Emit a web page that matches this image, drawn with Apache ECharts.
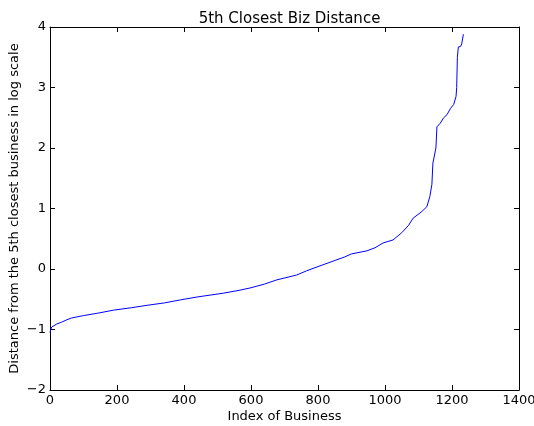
<!DOCTYPE html>
<html><head><meta charset="utf-8">
<script src="https://cdn.jsdelivr.net/npm/echarts@6/dist/echarts.min.js"></script>
<style>html,body{margin:0;padding:0;background:#fff}#c{width:534px;height:426px}</style>
</head><body><div id="c"></div>
<script>
const title = "5th Closest Biz Distance";
const xLabel = "Index of Business";
const yLabel = "Distance from the 5th closest business in log scale";
const xTicks = [0, 200, 400, 600, 800, 1000, 1200, 1400];
const yTicks = [-2, -1, 0, 1, 2, 3, 4];
const businessIndex = [0,2,5,9,20,34,50,64,100,143,190,243,290,342,390,442,480,517,567,600,640,677,736,766,800,845,880,900,946,970,994,1024,1050,1070,1084,1110,1125,1134,1140,1143,1147,1152,1155,1165,1175,1185,1195,1205,1212,1214,1216,1219,1226,1229,1234];
const logDistance = [-1.05,-1.0,-0.96,-0.93,-0.91,-0.88,-0.84,-0.81,-0.77,-0.73,-0.68,-0.64,-0.60,-0.56,-0.51,-0.46,-0.43,-0.40,-0.35,-0.31,-0.25,-0.18,-0.10,-0.03,0.04,0.13,0.20,0.25,0.30,0.35,0.43,0.48,0.60,0.72,0.84,0.95,1.03,1.2,1.4,1.75,1.77,2.0,2.35,2.41,2.5,2.55,2.65,2.72,2.85,3.0,3.5,3.67,3.68,3.72,3.88];

const pts = businessIndex.map((x, i) => [x, logDistance[i]]);
const font = "DejaVu Sans";
const fmt = v => String(v).replace('-', '\u2212');
const common = {
  axisLine: {show: true, onZero: false, lineStyle: {color: '#000', width: 1}},
  axisTick: {show: true, inside: true, length: 5, lineStyle: {color: '#000'}},
  splitLine: {show: false}
};
const chart = echarts.init(document.getElementById('c'), null, {renderer: 'canvas'});
chart.setOption({
  animation: false,
  backgroundColor: '#fff',
  title: {text: title, left: 284.5, textAlign: 'center', top: 7, textStyle: {fontFamily: font, fontSize: 15, fontWeight: 'normal', color: '#000'}},
  grid: {left: 50, right: 15, top: 27, bottom: 36, containLabel: false, outerBoundsMode: 'none'},
  xAxis: [
    Object.assign({type: 'value', position: 'bottom', min: xTicks[0], max: xTicks[xTicks.length-1], interval: 200,
      name: xLabel, nameLocation: 'middle', nameGap: 20, nameMoveOverlap: false,
      nameTextStyle: {fontFamily: font, fontSize: 13, color: '#000'},
      axisLabel: {fontFamily: font, fontSize: 13, color: '#000', margin: 4, formatter: fmt}}, common),
    Object.assign({type: 'value', position: 'top', min: xTicks[0], max: xTicks[xTicks.length-1], interval: 200,
      axisLabel: {show: false}}, common)
  ],
  yAxis: [
    Object.assign({type: 'value', position: 'left', min: yTicks[0], max: yTicks[yTicks.length-1], interval: 1,
      name: yLabel, nameLocation: 'middle', nameGap: 29, nameRotate: 90, nameMoveOverlap: false,
      nameTextStyle: {fontFamily: font, fontSize: 13, color: '#000'},
      axisLabel: {fontFamily: font, fontSize: 13, color: '#000', margin: 4, formatter: fmt}}, common),
    Object.assign({type: 'value', position: 'right', min: yTicks[0], max: yTicks[yTicks.length-1], interval: 1,
      axisLabel: {show: false}}, common)
  ],
  series: [{
    type: 'line', data: pts, xAxisIndex: 0, yAxisIndex: 0,
    showSymbol: false, symbol: 'none',
    lineStyle: {color: '#0000ff', width: 1}
  }]
});
</script></body></html>
